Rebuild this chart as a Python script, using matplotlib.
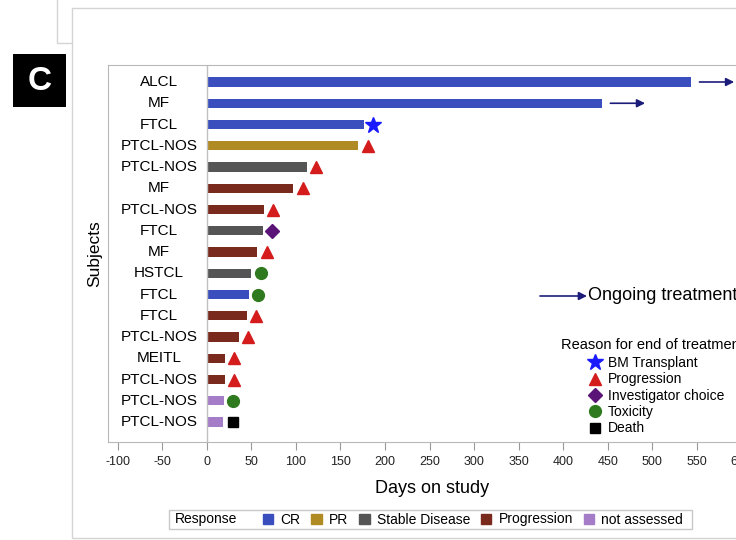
import matplotlib.pyplot as plt
from matplotlib.patches import Rectangle, Patch
from matplotlib.lines import Line2D

plt.rcParams['font.family'] = ['Liberation Sans', 'DejaVu Sans']
plt.rcParams['axes.unicode_minus'] = False

# data (top row first)
subjects = ['ALCL', 'MF', 'FTCL', 'PTCL-NOS', 'PTCL-NOS', 'MF', 'PTCL-NOS', 'FTCL', 'MF',
            'HSTCL', 'FTCL', 'FTCL', 'PTCL-NOS', 'MEITL', 'PTCL-NOS', 'PTCL-NOS', 'PTCL-NOS']
days = [544, 444, 176, 170, 112, 97, 64, 63, 56, 49, 47, 45, 36, 20, 20, 19, 18]
response = ['CR', 'CR', 'CR', 'PR', 'Stable Disease', 'Progression', 'Progression',
            'Stable Disease', 'Progression', 'Stable Disease', 'CR', 'Progression',
            'Progression', 'Progression', 'Progression', 'not assessed', 'not assessed']
end_reason = ['Ongoing', 'Ongoing', 'BM Transplant', 'Progression', 'Progression', 'Progression',
              'Progression', 'Investigator choice', 'Progression', 'Toxicity', 'Toxicity',
              'Progression', 'Progression', 'Progression', 'Progression', 'Toxicity', 'Death']
marker_days = [None, None, 187, 181, 122, 108, 74, 73, 67, 61, 57, 55, 46, 30, 30, 29, 29]

response_order = ['CR', 'PR', 'Stable Disease', 'Progression', 'not assessed']
response_colors = {'CR': '#3a4fbd', 'PR': '#b08a22', 'Stable Disease': '#555555',
                   'Progression': '#7a2a1c', 'not assessed': '#a47cc8'}

reason_order = ['BM Transplant', 'Progression', 'Investigator choice', 'Toxicity', 'Death']
reason_style = {'BM Transplant': ('*', '#1a1aff', 12),
                'Progression': ('^', '#d41c1c', 8.5),
                'Investigator choice': ('D', '#5a1478', 7),
                'Toxicity': ('o', '#2f7a1e', 8.5),
                'Death': ('s', 'black', 7.5)}

W, H = 736, 540
fig = plt.figure(figsize=(W / 100, H / 100), dpi=100)

# outer panel frames
fig.add_artist(Rectangle((72 / W, 1 - 538 / H), 700 / W, 530 / H, transform=fig.transFigure,
                         fill=False, edgecolor='#d4d4d4', lw=1))
fig.add_artist(Line2D([57 / W, 57 / W, 72 / W], [1.0, 1 - 43 / H, 1 - 43 / H],
                      transform=fig.transFigure, color='#d4d4d4', lw=1))

# panel letter
fig.add_artist(Rectangle((13 / W, 1 - 107 / H), 53 / W, 53 / H, transform=fig.transFigure,
                         facecolor='black', edgecolor='none'))
fig.text(39.5 / W, 1 - 81 / H, 'C', color='white', fontsize=24, fontweight='bold',
         ha='center', va='center')

ax = fig.add_axes([108 / W, 1 - 442 / H, 660 / W, 377 / H])
y = list(range(len(subjects)))
ax.barh(y, days, height=0.43, color=[response_colors[r] for r in response])

arrow_props = dict(arrowstyle='-|>', color='#1c1c7a', lw=1.2,
                   mutation_scale=12, shrinkA=0, shrinkB=0)
for i in y:
    ax.text(-54, i, subjects[i], ha='center', va='center', fontsize=11)
    reason = end_reason[i]
    if reason == 'Ongoing':
        ax.annotate('', xy=(days[i] + 48, i), xytext=(days[i] + 9, i), arrowprops=arrow_props)
    else:
        m, c, s = reason_style[reason]
        ax.plot(marker_days[i], i, marker=m, color=c, markersize=s, linestyle='none')

ax.axvline(0, color='#c0c0c0', lw=1)
ax.set_xlim(-111, 630)
ax.set_ylim(16.94, -0.8)
ax.set_yticks([])
ax.set_xticks(range(-100, 601, 50))
ax.tick_params(axis='x', labelsize=9, labelcolor='#222222', color='#999999',
               length=6, width=0.8, pad=4)
for sp in ax.spines.values():
    sp.set_color('#b8b8b8')

ax.set_ylabel('Subjects', fontsize=12.5, labelpad=4)
ax.set_xlabel('Days on study', fontsize=13)
ax.xaxis.set_label_coords((432 - 108) / 660, -0.1)

# ongoing treatment key
ax.annotate('', xy=(587 / W, 1 - 296 / H), xytext=(540 / W, 1 - 296 / H),
            xycoords='figure fraction', textcoords='figure fraction', arrowprops=arrow_props)
fig.text(588 / W, 1 - 296 / H, 'Ongoing treatment', fontsize=13, va='center')

# end-of-treatment key
fig.text(561 / W, 1 - 345 / H, 'Reason for end of treatment', fontsize=10.5, va='center')
reason_handles = [Line2D([], [], marker=reason_style[r][0], color=reason_style[r][1],
                         markersize=reason_style[r][2], linestyle='none') for r in reason_order]
fig.legend(reason_handles, reason_order, loc='upper left',
           bbox_to_anchor=(588 / W, 1 - 356 / H), frameon=False, fontsize=10,
           handlelength=1.0, handletextpad=0.44, labelspacing=0.17, borderpad=0,
           borderaxespad=0)

# response legend at bottom
fig.add_artist(Rectangle((169 / W, 1 - 529 / H), 523 / W, 19 / H, transform=fig.transFigure,
                         fill=False, edgecolor='#c8c8c8', lw=1))
fig.text(175 / W, 1 - 519.5 / H, 'Response', fontsize=10, va='center')
resp_handles = [Patch(color=response_colors[r]) for r in response_order]
fig.legend(resp_handles, response_order, loc='center left',
           bbox_to_anchor=(263 / W, 1 - 519.5 / H), ncol=5, fontsize=10, frameon=False,
           handlelength=0.75, handleheight=0.75, handletextpad=0.5,
           columnspacing=0.8, borderpad=0, borderaxespad=0)

fig.savefig('out.png', dpi=100)
